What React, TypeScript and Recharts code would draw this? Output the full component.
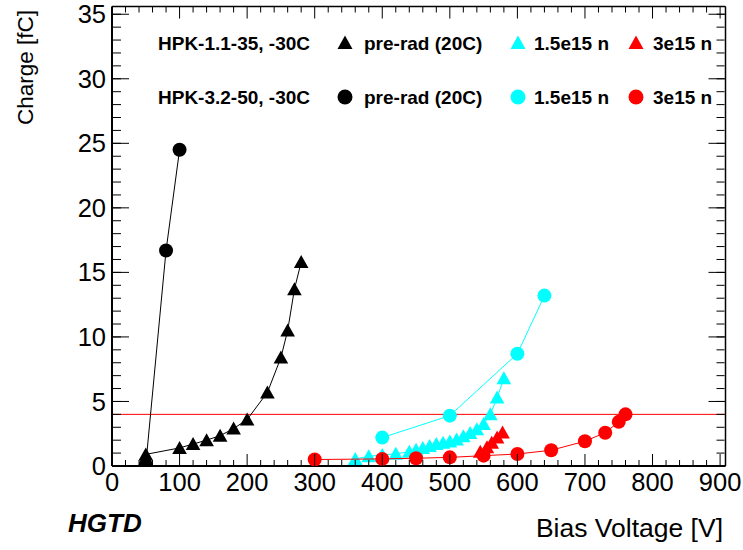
import React from 'react';
import { ScatterChart, Scatter, XAxis, YAxis, ReferenceLine } from 'recharts';

// HPK-1.1-35 (triangles)
const triPreRadV = [50, 100, 120, 140, 160, 180, 200, 230, 250, 260, 270, 280];
const triPreRadQ = [0.9, 1.4, 1.7, 2.0, 2.35, 2.9, 3.6, 5.7, 8.4, 10.5, 13.7, 15.8];
const tri15V = [360, 380, 400, 420, 440, 450, 460, 470, 480, 490, 500, 510, 520, 530, 540, 550, 560, 570, 580];
const tri15Q = [0.55, 0.75, 0.85, 0.95, 1.1, 1.25, 1.4, 1.55, 1.7, 1.8, 1.9, 2.05, 2.3, 2.55, 2.85, 3.25, 4.0, 5.3, 6.8];
const tri3V = [545, 555, 562, 570, 578];
const tri3Q = [1.1, 1.45, 1.8, 2.2, 2.6];

// HPK-3.2-50 (circles)
const circPreRadV = [50, 80, 100];
const circPreRadQ = [0.1, 16.7, 24.5];
const circ15V = [400, 500, 600, 640];
const circ15Q = [2.2, 3.9, 8.7, 13.2];
const circ3V = [300, 400, 450, 500, 550, 600, 650, 700, 730, 750, 760];
const circ3Q = [0.5, 0.55, 0.6, 0.67, 0.8, 0.93, 1.22, 1.92, 2.58, 3.42, 4.0];

const thresholdQ = 4;

const xMajor = [0, 100, 200, 300, 400, 500, 600, 700, 800, 900];
const xMinor = [0, 20, 40, 60, 80, 100, 120, 140, 160, 180, 200, 220, 240, 260, 280, 300, 320, 340, 360, 380, 400, 420, 440, 460, 480, 500, 520, 540, 560, 580, 600, 620, 640, 660, 680, 700, 720, 740, 760, 780, 800, 820, 840, 860, 880, 900];
const yMajor = [0, 5, 10, 15, 20, 25, 30, 35];
const yMinor = [0, 1, 2, 3, 4, 5, 6, 7, 8, 9, 10, 11, 12, 13, 14, 15, 16, 17, 18, 19, 20, 21, 22, 23, 24, 25, 26, 27, 28, 29, 30, 31, 32, 33, 34, 35];

const xDomain = [0, 908];
const yDomain = [0, 35.6];

const pts = (v: number[], q: number[]) => v.map((x, i) => ({ v: x, q: q[i] }));

const FONT = '"Liberation Sans", Arial, Helvetica, sans-serif';
const CYAN = '#00ffff';
const RED = '#ff0000';
const BLACK = '#000000';

const MARGIN = { top: 6.5, right: 17.5, bottom: 54, left: 72 };
const X_TICK_MARGIN = 7;

const circleShape = (color: string) => (p: any) => (
  <circle cx={p.cx} cy={p.cy} r={7} fill={color} />
);
const triShape = (color: string) => (p: any) => (
  <polygon
    points={`${p.cx},${p.cy - 7} ${p.cx - 7.3},${p.cy + 6} ${p.cx + 7.3},${p.cy + 6}`}
    fill={color}
  />
);

const EmptyTick = () => <g />;

// bottom-axis tick: label for majors, inward tick marks at bottom and top of the frame
const XTick = (p: any) => {
  const v = p.payload?.value;
  const major = xMajor.includes(v);
  const axisY = p.y - X_TICK_MARGIN;
  const len = major ? 12 : 6;
  return (
    <g>
      <line x1={p.x} x2={p.x} y1={axisY} y2={axisY - len} stroke={BLACK} strokeWidth={1} />
      <line x1={p.x} x2={p.x} y1={MARGIN.top} y2={MARGIN.top + len} stroke={BLACK} strokeWidth={1} />
      {major && (
        <text x={p.x} y={p.y} dy="0.71em" textAnchor="middle" fontFamily={FONT} fontSize={25.5} fill={BLACK}>
          {v}
        </text>
      )}
    </g>
  );
};

const LegendTri = ({ x, y, color }: { x: number; y: number; color: string }) => (
  <polygon points={`${x},${y - 7.5} ${x - 7.5},${y + 6} ${x + 7.5},${y + 6}`} fill={color} />
);
const LegendCirc = ({ x, y, color }: { x: number; y: number; color: string }) => (
  <circle cx={x} cy={y} r={7.5} fill={color} />
);

export default function App() {
  const my = { tick: EmptyTick, interval: 0 as const, allowDataOverflow: true, type: 'number' as const, width: 1, domain: yDomain, mirror: true, tickLine: { stroke: BLACK, strokeWidth: 1 } };
  return (
    <div style={{ position: 'absolute', left: 0, top: 0, width: 743, height: 550, background: '#fff' }}>
      <ScatterChart width={743} height={550} margin={MARGIN}>
        <XAxis
          xAxisId="m"
          type="number"
          dataKey="v"
          domain={xDomain}
          ticks={xMinor}
          interval={0}
          allowDataOverflow
          height={30}
          tickLine={false}
          tickSize={0}
          tickMargin={X_TICK_MARGIN}
          axisLine={{ stroke: BLACK, strokeWidth: 2 }}
          tick={XTick}
        />
        <YAxis
          yAxisId="m"
          type="number"
          dataKey="q"
          domain={yDomain}
          ticks={yMajor}
          interval={0}
          allowDataOverflow
          width={40}
          tickLine={false}
          tickSize={0}
          tickMargin={6}
          axisLine={{ stroke: BLACK, strokeWidth: 2 }}
          tick={{ fontSize: 25.5, fill: BLACK, fontFamily: FONT }}
        />
        <XAxis xAxisId="top" orientation="top" mirror type="number" domain={xDomain} ticks={xMajor} height={1} tick={EmptyTick} tickLine={false} axisLine={{ stroke: BLACK, strokeWidth: 1.5 }} allowDataOverflow />
        <YAxis yAxisId="lMaj" orientation="left" ticks={yMajor} tickSize={17} axisLine={false} {...my} />
        <YAxis yAxisId="lMin" orientation="left" ticks={yMinor} tickSize={8} axisLine={false} {...my} />
        <YAxis yAxisId="rMaj" orientation="right" ticks={yMajor} tickSize={17} axisLine={{ stroke: BLACK, strokeWidth: 1.5 }} {...my} />
        <YAxis yAxisId="rMin" orientation="right" ticks={yMinor} tickSize={8} axisLine={false} {...my} />

        <ReferenceLine xAxisId="m" yAxisId="m" y={thresholdQ} stroke={RED} strokeWidth={1} />

        <Scatter xAxisId="m" yAxisId="m" data={pts(triPreRadV, triPreRadQ)} line={{ stroke: BLACK, strokeWidth: 1 }} shape={triShape(BLACK)} isAnimationActive={false} />
        <Scatter xAxisId="m" yAxisId="m" data={pts(tri15V, tri15Q)} line={{ stroke: CYAN, strokeWidth: 1 }} shape={triShape(CYAN)} isAnimationActive={false} />
        <Scatter xAxisId="m" yAxisId="m" data={pts(tri3V, tri3Q)} line={{ stroke: RED, strokeWidth: 1 }} shape={triShape(RED)} isAnimationActive={false} />
        <Scatter xAxisId="m" yAxisId="m" data={pts(circPreRadV, circPreRadQ)} line={{ stroke: BLACK, strokeWidth: 1 }} shape={circleShape(BLACK)} isAnimationActive={false} />
        <Scatter xAxisId="m" yAxisId="m" data={pts(circ15V, circ15Q)} line={{ stroke: CYAN, strokeWidth: 1 }} shape={circleShape(CYAN)} isAnimationActive={false} />
        <Scatter xAxisId="m" yAxisId="m" data={pts(circ3V, circ3Q)} line={{ stroke: RED, strokeWidth: 1 }} shape={circleShape(RED)} isAnimationActive={false} />
      </ScatterChart>

      <svg width={743} height={550} style={{ position: 'absolute', left: 0, top: 0, pointerEvents: 'none' }}>
        <g fontFamily={FONT} fontWeight="bold" fontSize={19} fill={BLACK}>
          <text x={158} y={50}>HPK-1.1-35, -30C</text>
          <text x={364} y={50}>pre-rad (20C)</text>
          <text x={534} y={50}>1.5e15 n</text>
          <text x={653} y={50}>3e15 n</text>
          <text x={158} y={104}>HPK-3.2-50, -30C</text>
          <text x={364} y={104}>pre-rad (20C)</text>
          <text x={534} y={104}>1.5e15 n</text>
          <text x={653} y={104}>3e15 n</text>
        </g>
        <LegendTri x={345} y={43} color={BLACK} />
        <LegendTri x={518} y={43} color={CYAN} />
        <LegendTri x={636} y={43} color={RED} />
        <LegendCirc x={345} y={97} color={BLACK} />
        <LegendCirc x={518} y={97} color={CYAN} />
        <LegendCirc x={636} y={97} color={RED} />

        <text x={723} y={537} textAnchor="end" fontFamily={FONT} fontSize={26.5} fill={BLACK}>Bias Voltage [V]</text>
        <text x={33} y={10} textAnchor="end" transform="rotate(-90 33 10)" fontFamily={FONT} fontSize={22.5} fill={BLACK}>Charge [fC]</text>
        <text x={68} y={532} fontFamily={FONT} fontSize={26} fontWeight="bold" fontStyle="italic" fill={BLACK}>HGTD</text>
      </svg>
    </div>
  );
}
